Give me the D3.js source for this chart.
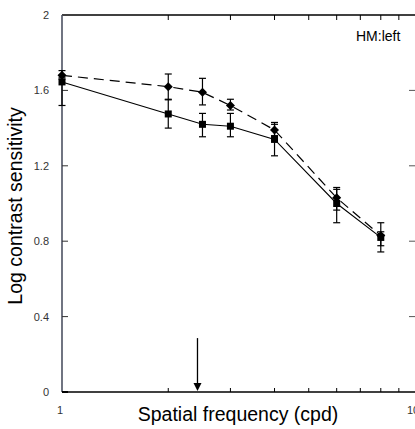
<!DOCTYPE html>
<html><head><meta charset="utf-8">
<script src="https://cdn.jsdelivr.net/npm/d3@7"></script>
<style>html,body{margin:0;padding:0;background:#fff;overflow:hidden}</style>
</head><body>
<svg id="c" width="415" height="429"></svg>
<script>
const freqs = [1, 2, 2.5, 3, 4, 6, 8];
const diamondVals = [1.68, 1.62, 1.59, 1.52, 1.39, 1.03, 0.83];
const diamondLo   = [1.66, 1.55, 1.523, 1.496, 1.36, 0.965, 0.776];
const diamondHi   = [1.705, 1.687, 1.664, 1.553, 1.43, 1.075, 0.85];
const squareVals  = [1.645, 1.475, 1.42, 1.41, 1.34, 1.0, 0.82];
const squareLo    = [1.52, 1.40, 1.354, 1.354, 1.253, 0.898, 0.743];
const squareHi    = [1.67, 1.553, 1.478, 1.478, 1.42, 1.085, 0.898];
const yTicks = [0, 0.4, 0.8, 1.2, 1.6, 2];
const yTickLabels = ["0", "0.4", "0.8", "1.2", "1.6", "2"];
const xMinor = [2, 3, 4, 5, 6, 7, 8, 9];
const xLabels = [1, 10];
const arrowX = 2.42, arrowTop = 0.286;

const svg = d3.select("#c");
const L = 62, R = 415, T = 15, B = 392;
const x = d3.scaleLog().domain([1, 10]).range([L, R]);
const y = d3.scaleLinear().domain([0, 2]).range([B, T]);
const font = "Liberation Sans, Arial, Helvetica, sans-serif";

// frame lines
svg.append("line").attr("x1", L).attr("x2", R).attr("y1", T).attr("y2", T).attr("stroke", "#000").attr("stroke-width", 1.3);
svg.append("line").attr("x1", L).attr("x2", R).attr("y1", B).attr("y2", B).attr("stroke", "#000").attr("stroke-width", 1.3);
svg.append("line").attr("x1", L).attr("x2", L).attr("y1", T).attr("y2", B).attr("stroke", "#4d5262").attr("stroke-width", 1.6);
svg.append("line").attr("x1", L).attr("x2", L + 6).attr("y1", B).attr("y2", B).attr("stroke", "#000").attr("stroke-width", 2);

// x minor ticks (top and bottom, inward)
svg.selectAll(".xtb").data(xMinor).join("line")
  .attr("x1", d => x(d)).attr("x2", d => x(d)).attr("y1", B).attr("y2", B - 4)
  .attr("stroke", "#000").attr("stroke-width", 1);
svg.selectAll(".xtt").data(xMinor).join("line")
  .attr("x1", d => x(d)).attr("x2", d => x(d)).attr("y1", T).attr("y2", T + 5)
  .attr("stroke", "#000").attr("stroke-width", 1);

// y ticks (left and right, inward)
svg.selectAll(".ytl").data(yTicks.slice(1, -1)).join("line")
  .attr("x1", L).attr("x2", L + 6).attr("y1", d => y(d)).attr("y2", d => y(d))
  .attr("stroke", "#333").attr("stroke-width", 1);
svg.selectAll(".ytr").data(yTicks.slice(1, -1)).join("line")
  .attr("x1", R - 6).attr("x2", R).attr("y1", d => y(d)).attr("y2", d => y(d))
  .attr("stroke", "#555").attr("stroke-width", 1);

// y tick labels
svg.selectAll(".ylab").data(yTicks).join("text")
  .attr("x", 49).attr("y", d => y(d) + 4)
  .attr("text-anchor", "end").attr("font-family", font).attr("font-size", 11).attr("fill", "#333")
  .text((d, i) => yTickLabels[i]);
// x tick labels
svg.selectAll(".xlab").data(xLabels).join("text")
  .attr("x", d => x(d) - 2).attr("y", 414)
  .attr("text-anchor", "middle").attr("font-family", font).attr("font-size", 11).attr("fill", "#333")
  .text(d => d);

// axis titles
svg.append("text").attr("x", 238).attr("y", 421).attr("text-anchor", "middle")
  .attr("font-family", font).attr("font-size", 19.5).attr("fill", "#000").text("Spatial frequency (cpd)");
svg.append("text").attr("transform", "translate(22,206) rotate(-90)").attr("text-anchor", "middle")
  .attr("font-family", font).attr("font-size", 19.5).attr("fill", "#000").text("Log contrast sensitivity");

svg.append("text").attr("x", 356).attr("y", 41).attr("font-family", font).attr("font-size", 14).attr("fill", "#000").text("HM:left");

// lines
const line = d3.line().x(d => x(d[0])).y(d => y(d[1]));
svg.append("path").datum(freqs.map((f, i) => [f, diamondVals[i]])).attr("d", line)
  .attr("fill", "none").attr("stroke", "#000").attr("stroke-width", 1.2).attr("stroke-dasharray", "10,6");
svg.append("path").datum(freqs.map((f, i) => [f, squareVals[i]])).attr("d", line)
  .attr("fill", "none").attr("stroke", "#000").attr("stroke-width", 1.1);

// error bars
function errBars(lo, hi) {
  const g = svg.append("g").attr("stroke", "#000").attr("stroke-width", 1.2);
  freqs.forEach((f, i) => {
    const cx = x(f);
    g.append("line").attr("x1", cx).attr("x2", cx).attr("y1", y(lo[i])).attr("y2", y(hi[i]));
    g.append("line").attr("x1", cx - 3.5).attr("x2", cx + 3.5).attr("y1", y(lo[i])).attr("y2", y(lo[i]));
    g.append("line").attr("x1", cx - 3.5).attr("x2", cx + 3.5).attr("y1", y(hi[i])).attr("y2", y(hi[i]));
  });
}
errBars(squareLo, squareHi);
errBars(diamondLo, diamondHi);

// markers
svg.selectAll(".sq").data(freqs).join("rect")
  .attr("x", d => x(d) - 3.5).attr("y", (d, i) => y(squareVals[i]) - 3.5)
  .attr("width", 7).attr("height", 7).attr("fill", "#000");
svg.selectAll(".dm").data(freqs).join("path")
  .attr("d", (d, i) => { const cx = x(d), cy = y(diamondVals[i]); return `M${cx},${cy-4.5}L${cx+4.5},${cy}L${cx},${cy+4.5}L${cx-4.5},${cy}Z`; })
  .attr("fill", "#000");

// arrow
const ax = x(arrowX);
svg.append("line").attr("x1", ax).attr("x2", ax).attr("y1", y(arrowTop)).attr("y2", B - 6)
  .attr("stroke", "#000").attr("stroke-width", 1.3);
svg.append("path").attr("d", `M${ax-4},${B-9}L${ax+4},${B-9}L${ax},${B-1}Z`).attr("fill", "#000");
</script>
</body></html>
